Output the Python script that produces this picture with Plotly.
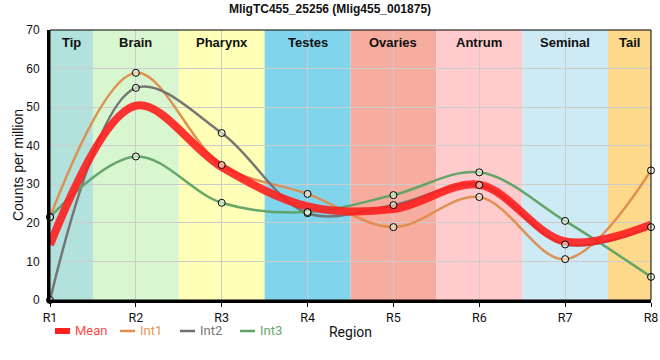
import plotly.graph_objects as go

regions = ["R1", "R2", "R3", "R4", "R5", "R6", "R7", "R8"]
int1 = [21.5, 58.9, 35.0, 27.5, 18.9, 26.7, 10.6, 33.6]
int2 = [0.0, 55.0, 43.3, 22.5, 24.6, 29.8, 14.4, 18.9]
int3 = [21.5, 37.2, 25.2, 22.8, 27.2, 33.1, 20.5, 6.0]
mean = [(a + b + c) / 3 for a, b, c in zip(int1, int2, int3)]

band_names = ["Tip", "Brain", "Pharynx", "Testes", "Ovaries", "Antrum", "Seminal", "Tail"]
band_colors = ["#b3e2dd", "#d8f6d0", "#ffffb8", "#80d5ec", "#f6ac9e", "#ffcbcc", "#cdeaf5", "#fdd98b"]

W, H = 660, 360
ML, MR, MT, MB = 50, 9, 30, 60
PW, PH = W - ML - MR, H - MT - MB


def px2paper(px, py):
    return (px - ML) / PW, (H - MB - py) / PH


x = list(range(len(regions)))
fig = go.Figure()

shapes = []
annotations = []
n = len(regions)
for i, (nm, col) in enumerate(zip(band_names, band_colors)):
    x0 = max(i - 0.5, 0)
    x1 = min(i + 0.5, n - 1)
    shapes.append(dict(type="rect", xref="x", yref="paper", x0=x0, x1=x1, y0=0, y1=1,
                       fillcolor=col, line=dict(width=0), layer="below"))
    annotations.append(dict(x=(x0 + x1) / 2, y=1, xref="x", yref="paper", yanchor="top",
                            yshift=-3, text="<b>" + nm + "</b>", showarrow=False,
                            font=dict(family="Liberation Sans, Arial", size=13, color="#111")))

series = [("Int1", int1, "#e08c4c"), ("Int2", int2, "#707070"), ("Int3", int3, "#5ea364")]
for nm, vals, col in series:
    fig.add_trace(go.Scatter(x=x, y=vals, mode="lines", name=nm, showlegend=False,
                             line=dict(color=col, width=2.5, shape="spline", smoothing=1.0),
                             opacity=0.95))

fig.add_trace(go.Scatter(x=x, y=mean, mode="lines", name="Mean", showlegend=False,
                         line=dict(color="#ff2020", width=8, shape="spline", smoothing=1.0),
                         opacity=0.9))

for nm, vals, col in series:
    fig.add_trace(go.Scatter(x=x, y=vals, mode="markers", showlegend=False, cliponaxis=False,
                             marker=dict(size=7, color="rgba(240,248,230,0.6)",
                                         line=dict(color="black", width=1))))

shapes.append(dict(type="rect", xref="paper", yref="paper", x0=0, x1=1, y0=0, y1=1,
                   line=dict(color="black", width=1), layer="above"))

# custom legend (short swatches like the reference)
legend_items = [("Mean", "#ff2020", "#ff4a4a", 6, 55),
                ("Int1", "#e08c4c", "#e8955a", 2.5, 120),
                ("Int2", "#707070", "#7a7a7a", 2.5, 180),
                ("Int3", "#5ea364", "#66a86c", 2.5, 240)]
LY = 331
for nm, lc, tc, lw, sx in legend_items:
    xa, ya = px2paper(sx, LY)
    xb, _ = px2paper(sx + 15, LY)
    shapes.append(dict(type="line", xref="paper", yref="paper", x0=xa, x1=xb, y0=ya, y1=ya,
                       line=dict(color=lc, width=lw)))
    xt, _ = px2paper(sx + 18, LY)
    annotations.append(dict(x=xt, y=ya, xref="paper", yref="paper", xanchor="left", yanchor="middle",
                            text=nm, showarrow=False, font=dict(family="Roboto", size=13, color=tc)))

fig.update_layout(
    width=W, height=H,
    margin=dict(l=ML, r=MR, t=MT, b=MB),
    paper_bgcolor="white", plot_bgcolor="white",
    title=dict(text="<b>MligTC455_25256 (Mlig455_001875)</b>", x=0.5, xanchor="center",
               y=1 - 9 / H, yanchor="middle", font=dict(family="Liberation Sans, Arial", size=12, color="#111")),
    shapes=shapes, annotations=annotations,
    showlegend=False,
    xaxis=dict(range=[0, n - 1], tickvals=x, ticktext=regions, showgrid=True, gridcolor="#cccccc",
               gridwidth=1, zeroline=False, showline=True, linecolor="black", linewidth=3,
               ticks="outside", ticklen=4, tickcolor="black", automargin=False,
               tickfont=dict(family="Roboto", size=12.5, color="#111"),
               title=dict(text="Region", standoff=4, font=dict(family="Roboto", size=14, color="#111")),
               layer="above traces"),
    yaxis=dict(range=[0, 70], dtick=10, showgrid=True, gridcolor="#cccccc", gridwidth=1,
               zeroline=False, showline=True, linecolor="black", linewidth=3, automargin=False,
               ticks="", ticklabelstandoff=5,
               tickfont=dict(family="Liberation Sans, Arial", size=12, color="#111"),
               title=dict(text="Counts per million", standoff=0,
                          font=dict(family="Liberation Sans, Arial", size=14, color="#111")),
               layer="above traces"),
)

fig.write_html("out.html", config={"displayModeBar": False},
               post_script="document.body.style.margin='0px';")
